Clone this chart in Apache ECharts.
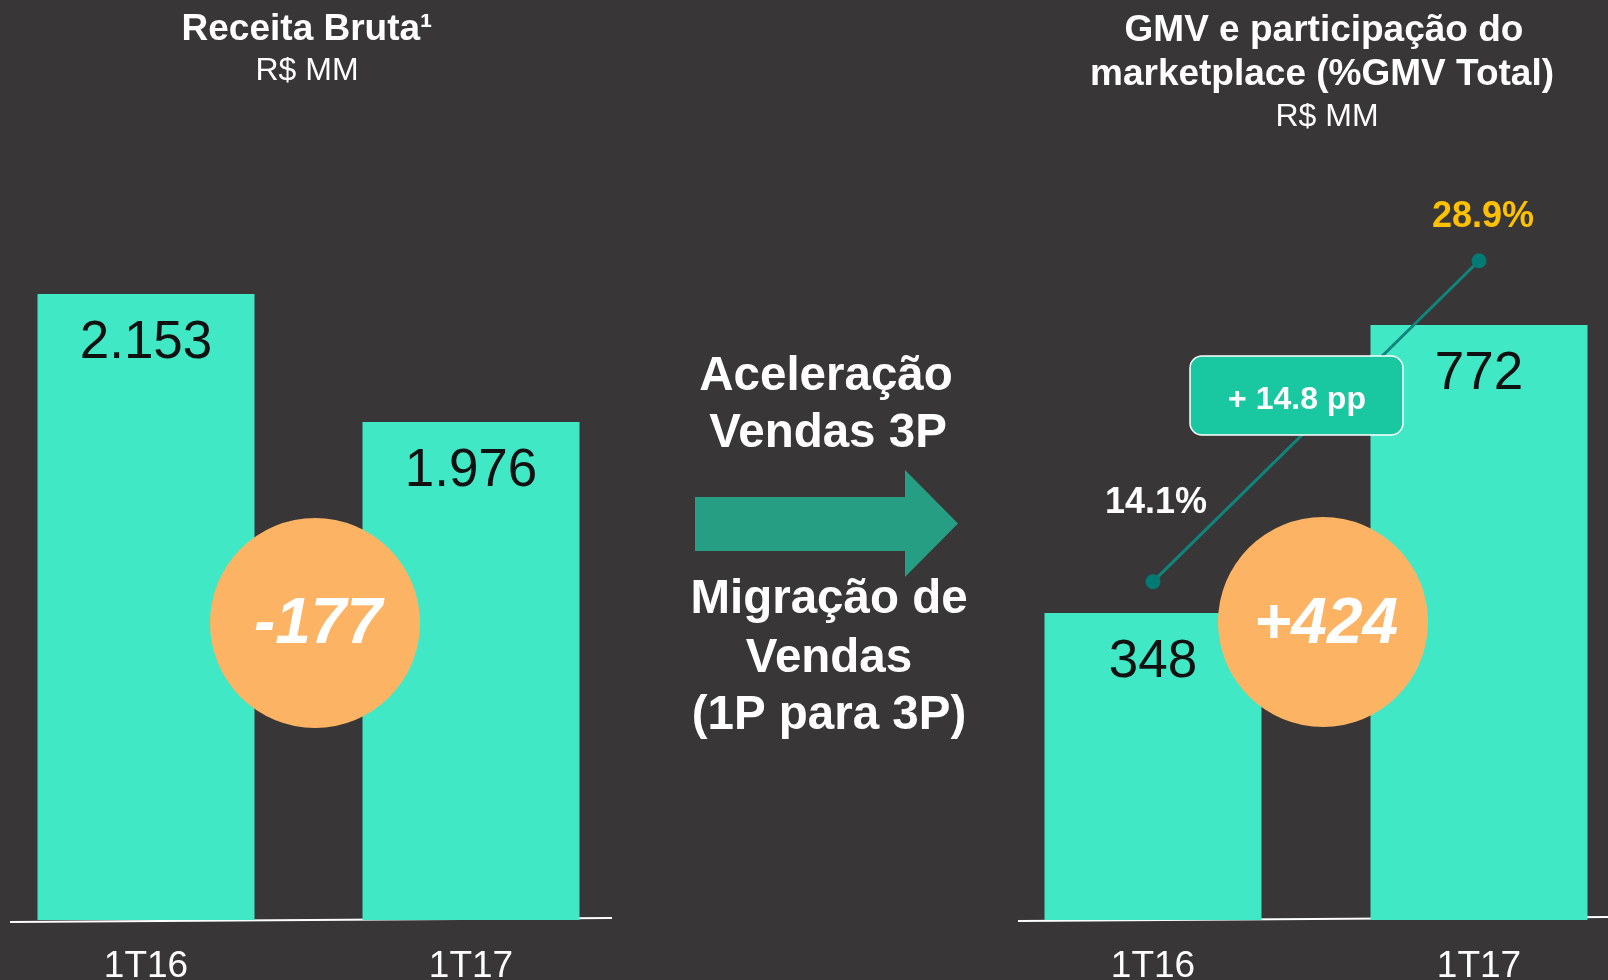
<!DOCTYPE html>
<html>
<head>
    <meta http-equiv="Content-Type" content="text/html; charset=utf-8"/>
    <script src="https://cdn.jsdelivr.net/npm/echarts@6/dist/echarts.min.js"></script>
    <style>
        html, body { margin: 0; padding: 0; background: #383637; }
        #main { width: 1608px; height: 980px; }
    </style>
</head>
<body>

<div id="main"></div>

<script type="text/javascript">
    var categories = ['1T16', '1T17'];
    var receitaBruta = [2153, 1976];
    var gmvMarketplace = [348, 772];
    var participacao = [14.1, 28.9];

    var FONT = "'Liberation Sans', Arial, sans-serif";
    var BAR = '#41E8C5';

    // 2153 -> "2.153"
    function fmt(v) {
        if (v >= 1000) {
            return Math.floor(v / 1000) + '.' + String(v % 1000).padStart(3, '0');
        }
        return String(v);
    }
    function signed(v) {
        return (v > 0 ? '+' : '') + v;
    }

    var diffReceita = signed(receitaBruta[1] - receitaBruta[0]);
    var diffGmv = signed(gmvMarketplace[1] - gmvMarketplace[0]);
    var diffPp = '+ ' + (participacao[1] - participacao[0]).toFixed(1) + ' pp';

    // estilo dos rótulos da linha
    var pctColors = ['#ffffff', '#FFC000'];
    var pctOffsets = [[3, -48], [4, -13]];

    var chart = echarts.init(document.getElementById('main'));

    function centerText(txt, x, y, size, weight, extra) {
        var s = {
            text: txt, x: x, y: y,
            align: 'center', verticalAlign: 'middle',
            fill: '#ffffff',
            font: (extra || '') + ' ' + weight + ' ' + size + 'px ' + FONT
        };
        return {type: 'text', z: 100, style: s};
    }

    // boundaryGap false: as categorias ficam nas bordas do grid = centro das barras
    var catAxis = function (idx) {
        return {
            type: 'category',
            gridIndex: idx,
            data: categories,
            boundaryGap: false,
            axisLine: {show: false},
            axisTick: {show: false},
            axisLabel: {color: '#ffffff', fontSize: 37, fontFamily: FONT, margin: 28}
        };
    };

    var barLabel = {
        show: true, position: 'insideTop', distance: 23,
        color: '#111111', fontSize: 53, fontFamily: FONT,
        formatter: function (p) { return fmt(p.value); }
    };

    var option = {
        backgroundColor: '#383637',
        animation: false,
        grid: [
            {left: 146, right: 1137, top: 294, bottom: 60, outerBoundsMode: 'none'},
            {left: 1153, right: 129, top: 200, bottom: 60, outerBoundsMode: 'none'}
        ],
        xAxis: [catAxis(0), catAxis(1)],
        yAxis: [
            {type: 'value', gridIndex: 0, min: 1287, max: 2153, startValue: 1287, show: false},
            {type: 'value', gridIndex: 1, min: -104, max: 956, startValue: -104, show: false},
            {type: 'value', gridIndex: 1, min: -1.5, max: 31.7, show: false}
        ],
        series: [
            {
                name: 'Receita Bruta',
                type: 'bar',
                xAxisIndex: 0,
                yAxisIndex: 0,
                clip: false,
                data: receitaBruta,
                barWidth: 217,
                itemStyle: {color: BAR},
                label: barLabel
            },
            {
                name: 'GMV',
                type: 'bar',
                xAxisIndex: 1,
                yAxisIndex: 1,
                clip: false,
                data: gmvMarketplace,
                barWidth: 217,
                itemStyle: {color: BAR},
                label: barLabel
            },
            {
                name: '% marketplace',
                type: 'line',
                xAxisIndex: 1,
                yAxisIndex: 2,
                clip: false,
                z: 5,
                data: participacao.map(function (v, i) {
                    return {
                        value: v,
                        label: {color: pctColors[i], offset: pctOffsets[i]}
                    };
                }),
                symbol: 'circle',
                symbolSize: 15,
                itemStyle: {color: '#007A72'},
                lineStyle: {color: '#0F847B', width: 3},
                label: {
                    show: true, position: 'top', distance: 5,
                    fontSize: 36, fontWeight: 'bold', fontFamily: FONT,
                    formatter: function (p) { return p.value.toFixed(1) + '%'; }
                }
            }
        ],
        graphic: [
            // linhas de base
            {type: 'line', z: 1, shape: {x1: 10, y1: 922, x2: 612, y2: 918},
                style: {stroke: '#ffffff', lineWidth: 2}},
            {type: 'line', z: 1, shape: {x1: 1018, y1: 921, x2: 1608, y2: 917},
                style: {stroke: '#ffffff', lineWidth: 2}},

            // títulos
            centerText('Receita Bruta¹', 307, 30, 37, 'bold'),
            centerText('R$ MM', 307, 71, 32, 'normal'),
            centerText('GMV e participação do', 1324, 31, 37, 'bold'),
            centerText('marketplace (%GMV Total)', 1322, 75, 37, 'bold'),
            centerText('R$ MM', 1327, 117, 32, 'normal'),

            // texto central + seta
            centerText('Aceleração', 826, 377, 47.5, 'bold'),
            centerText('Vendas 3P', 828, 434, 47.5, 'bold'),
            {
                type: 'polygon', z: 100,
                shape: {points: [[695, 497], [905, 497], [905, 470], [958, 523.5], [905, 577], [905, 551], [695, 551]]},
                style: {fill: '#269E84'}
            },
            centerText('Migração de', 829, 600, 47.5, 'bold'),
            centerText('Vendas', 829, 658.5, 47.5, 'bold'),
            centerText('(1P para 3P)', 829, 716, 47.5, 'bold'),

            // círculos de variação
            {type: 'circle', z: 100, shape: {cx: 315, cy: 623, r: 105}, style: {fill: '#FDB364'}},
            centerText(diffReceita, 318, 625, 64, 'bold', 'italic'),
            {type: 'circle', z: 100, shape: {cx: 1323, cy: 622, r: 105}, style: {fill: '#FDB364'}},
            centerText(diffGmv, 1326, 625, 64, 'bold', 'italic'),

            // caixa + 14.8 pp
            {
                type: 'rect', z: 100,
                shape: {x: 1190, y: 356, width: 213, height: 79, r: 12},
                style: {fill: '#19C8A0', stroke: '#ffffff', lineWidth: 1.5}
            },
            centerText(diffPp, 1297, 400, 32, 'bold')
        ]
    };

    chart.setOption(option);
</script>

</body>
</html>
